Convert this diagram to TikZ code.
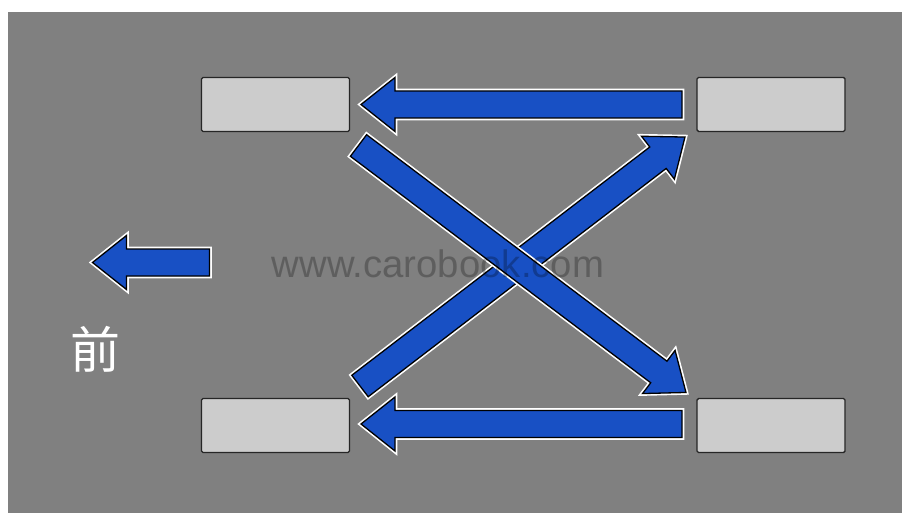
\documentclass[tikz,border=0pt]{standalone}
\usepackage{fontspec}
\setmainfont{Liberation Sans}
\newfontfamily\cjk{Noto Sans CJK SC}
\usetikzlibrary{calc}
\definecolor{bgGrey}{RGB}{128,128,128}
\definecolor{tireGrey}{RGB}{204,204,204}
\definecolor{arrowBlue}{RGB}{24,80,196}
\tikzset{
  tirebox/.style={draw=black!85, line width=1.4pt, fill=tireGrey, rounded corners=1.5pt,
    minimum width=148pt, minimum height=54pt, inner sep=0pt},
  fatarrowstyle/.style={fill=arrowBlue, draw=black, line width=1.3pt, line join=miter,
    preaction={draw=white, line width=4.6pt, line join=miter}},
}
\newcommand\fatarrow[2]{%
  \path let \p1=(#1), \p2=(#2) in \pgfextra{%
    \pgfmathsetmacro\faang{atan2(\y2-\y1,\x2-\x1)}%
    \pgfmathsetmacro\falen{veclen(\x2-\x1,\y2-\y1)}%
    \xdef\faang{\faang}\xdef\falen{\falen}};
  \begin{scope}[shift={(#1)}, rotate=\faang, x=1pt, y=1pt]
    \draw[fatarrowstyle] (0,-13.5) -- ({\falen-34},-13.5) -- ({\falen-34},-27) -- (\falen,0)
      -- ({\falen-34},27) -- ({\falen-34},13.5) -- (0,13.5) -- cycle;
  \end{scope}}
\begin{document}
\begin{tikzpicture}[x=1pt,y=-1pt]
  \useasboundingbox (0,0) rectangle (902,513);
  \fill[white] (0,0) rectangle (902,513);
  \fill[bgGrey] (8,12) rectangle (902,513);
  % tires
  \node[tirebox] (tl) at (275.5,104.5) {};
  \node[tirebox] (tr) at (771,104.5) {};
  \node[tirebox] (bl) at (275.5,425.5) {};
  \node[tirebox] (br) at (771,425.5) {};
  % arrow ends
  \coordinate (topS) at (682,104.5);
  \coordinate (topE) at (361,104.5);
  \coordinate (botS) at (682,424);
  \coordinate (botE) at (361,424);
  \coordinate (aS) at (358.5,145.5);
  \coordinate (aE) at (686,392.5);
  \coordinate (bS) at (360,386);
  \coordinate (bE) at (685,137);
  \coordinate (fS) at (209.5,262.5);
  \coordinate (fE) at (92.5,262.5);
  \fatarrow{topS}{topE}
  \fatarrow{botS}{botE}
  \fatarrow{bS}{bE}
  \fatarrow{aS}{aE}
  \fatarrow{fS}{fE}
  % texts
  \node[anchor=base, inner sep=0pt, text=white, font=\cjk\fontsize{50}{52}\selectfont] (front) at (95.5,368) {前};
  \node[anchor=base, inner sep=0pt, text=black, text opacity=0.26, font=\fontsize{38.3}{40}\selectfont] (wm) at (438,277.7) {www.carobook.com};
\end{tikzpicture}
\end{document}
